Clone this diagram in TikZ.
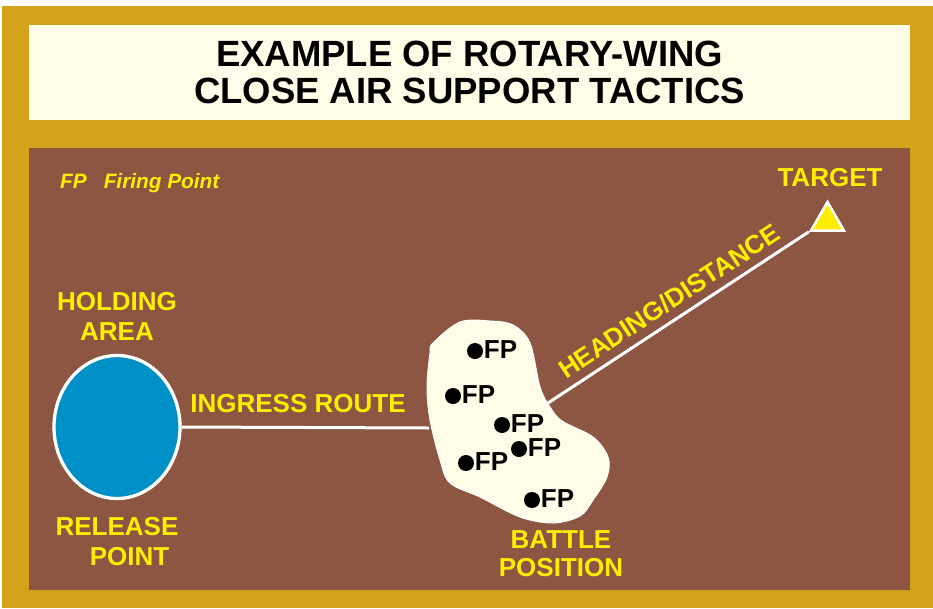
\documentclass[tikz,border=0pt]{standalone}
\usepackage{fontspec}
\setmainfont{Liberation Sans}
\usetikzlibrary{shapes.geometric}
\definecolor{goldc}{HTML}{D4A11B}
\definecolor{brownbg}{HTML}{8C5643}
\definecolor{creamc}{HTML}{FFFDE8}
\definecolor{ylw}{HTML}{FFEE00}
\definecolor{bluec}{HTML}{0090C8}
\begin{document}
\begin{tikzpicture}[x=1pt,y=-1pt,
  lbl/.style={text=ylw, font=\fontsize{26}{30}\selectfont\bfseries, align=center, inner sep=0pt},
  fpdot/.style={circle, fill=black, minimum size=16pt, inner sep=0pt},
  fptxt/.style={text=black, font=\fontsize{26}{28}\selectfont\bfseries, inner sep=0pt, anchor=west, xshift=0.5pt, yshift=1pt},
  wline/.style={draw=white, line width=3pt}]
\useasboundingbox (0,0) rectangle (933,608);
\fill[white] (0,0) rectangle (933,608);
\fill[goldc] (2,6) rectangle (933,608);
\node (title) [fill=creamc, minimum width=881pt, minimum height=95pt, inner sep=0pt,
  font=\fontsize{36.5}{37}\selectfont\bfseries, align=center] at (469.5,72.5)
  {EXAMPLE OF ROTARY-WING\\CLOSE AIR SUPPORT TACTICS};
\node (field) [fill=brownbg, minimum width=881pt, minimum height=442pt, inner sep=0pt] at (469.5,369) {};
% legend
\node (legend) [text=ylw, font=\fontsize{20.8}{24}\selectfont\bfseries\itshape, inner sep=0pt, anchor=west]
  at (60,183) {FP\hspace{17pt}Firing Point};
% holding area
\node (hold) [ellipse, draw=white, line width=3.3pt, fill=bluec, minimum width=126pt, minimum height=143pt] at (117,427) {};
\node (holdlbl) [lbl] at (117,316) {HOLDING\\AREA};
\node (rellbl) [lbl] at (117,541.5) {RELEASE\\\hspace*{25pt}POINT};
% battle position
\draw[fill=creamc, draw=white, line width=1pt]
  plot[smooth cycle, tension=0.55] coordinates {
  (433,343) (460,322) (490,321) (513,325) (530,343) (540,387) (550,407) (562,421)
  (593,437) (608,457) (607,477) (593,500) (580,516) (553,523) (520,517) (480,497)
  (450,483) (440,460) (430,420) (427,387) (430,353)};
\coordinate (bpw) at (429,428);
\coordinate (bpne) at (548,403);
\node (bplbl) [lbl, font=\fontsize{26}{28.5}\selectfont\bfseries] at (561,553.5) {BATTLE\\POSITION};
% target
\node (target) [regular polygon, regular polygon sides=3, fill=ylw, draw=white, line width=2.5pt,
  minimum size=38pt, inner sep=0pt] at (827.5,221) {};
\node (tgtlbl) [lbl] at (830,178) {TARGET};
% connectors
\draw[wline] (hold.east) -- (bpw);
\draw[wline] (bpne) -- (target.corner 2);
\node (inglbl) [lbl] at (298,403.5) {INGRESS ROUTE};
\node (hdglbl) [lbl, rotate=33.2] at (669,301) {HEADING/DISTANCE};
% firing points
\node (d1) [fpdot] at (475,351) {}; \node (t1) [fptxt] at (d1.east) {FP};
\node (d2) [fpdot] at (453,396) {}; \node (t2) [fptxt] at (d2.east) {FP};
\node (d3) [fpdot] at (502,425) {}; \node (t3) [fptxt] at (d3.east) {FP};
\node (d4) [fpdot] at (519,449) {}; \node (t4) [fptxt] at (d4.east) {FP};
\node (d5) [fpdot] at (466,463) {}; \node (t5) [fptxt] at (d5.east) {FP};
\node (d6) [fpdot] at (532,500) {}; \node (t6) [fptxt] at (d6.east) {FP};
\end{tikzpicture}
\end{document}
